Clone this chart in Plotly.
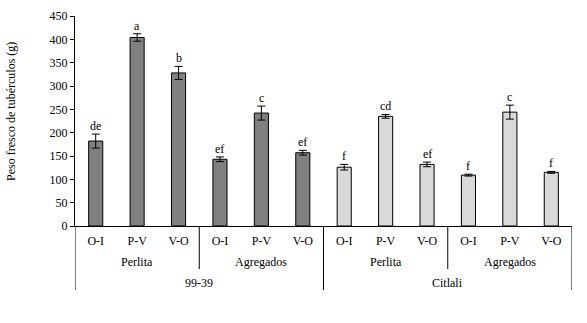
import plotly.graph_objects as go

treatments = ["O-I", "P-V", "V-O"] * 4
substrates = ["Perlita", "Agregados", "Perlita", "Agregados"]
varieties = ["99-39", "Citlali"]
values = [182, 404, 328, 143, 242, 157, 126, 235, 132, 109, 244, 115]
errors = [15, 8, 14, 5, 15, 5, 6, 4, 5, 2, 15, 2]
letters = ["de", "a", "b", "ef", "c", "ef", "f", "cd", "ef", "f", "c", "f"]
colors = ["#808080"] * 6 + ["#d9d9d9"] * 6
yticks = [0, 50, 100, 150, 200, 250, 300, 350, 400, 450]
ytitle = "Peso fresco de tubérculos (g)"

FONT = "Liberation Serif"
xs = list(range(len(values)))

fig = go.Figure()
fig.add_trace(go.Bar(
    x=xs, y=values, width=0.34,
    marker=dict(color=colors, line=dict(color="black", width=1)),
    error_y=dict(type="data", array=errors, visible=True, color="black",
                 thickness=1, width=4),
    showlegend=False,
))

annotations = []
for i, (v, e, t) in enumerate(zip(values, errors, letters)):
    annotations.append(dict(x=i, y=v + e, text=t, showarrow=False,
                            yanchor="bottom", xanchor="center", yshift=-1,
                            font=dict(family=FONT, size=12, color="black")))

def py(pix):
    return (226 - pix) / 210.0

def px(pix):
    return (pix - 75) / 497.0

for j, s in enumerate(substrates):
    annotations.append(dict(x=j * 3 + 1, y=py(262), xref="x", yref="paper", text=s,
                            showarrow=False, yanchor="middle",
                            font=dict(family=FONT, size=12, color="black")))
for k, v in enumerate(varieties):
    annotations.append(dict(x=k * 6 + 2.5, y=py(283), xref="x", yref="paper", text=v,
                            showarrow=False, yanchor="middle",
                            font=dict(family=FONT, size=12, color="black")))
annotations.append(dict(x=px(11), y=py(112), xref="paper", yref="paper", text=ytitle,
                        textangle=-90, showarrow=False, xanchor="center",
                        yanchor="middle",
                        font=dict(family=FONT, size=12, color="black")))

shapes = []
for b in [-0.5, 5.5, 11.5]:
    shapes.append(dict(type="line", xref="x", yref="paper", x0=b, x1=b,
                       y0=0, y1=py(290), line=dict(color="black", width=1)))
for b in [2.5, 8.5]:
    shapes.append(dict(type="line", xref="x", yref="paper", x0=b, x1=b,
                       y0=0, y1=py(269), line=dict(color="black", width=1)))

fig.update_layout(
    width=587, height=323,
    margin=dict(l=75, r=15, t=16, b=97),
    plot_bgcolor="white", paper_bgcolor="white",
    font=dict(family=FONT, size=12, color="black"),
    annotations=annotations, shapes=shapes,
    xaxis=dict(range=[-0.5, 11.5], tickvals=xs, ticktext=treatments,
               showline=True, linecolor="black", linewidth=1, ticks="",
               showgrid=False, zeroline=False, ticklabelstandoff=4,
               automargin=False,
               tickfont=dict(family=FONT, size=12, color="black")),
    yaxis=dict(range=[0, 450], tickvals=yticks, showline=True, linecolor="black",
               linewidth=1, ticks="outside", ticklen=4, tickcolor="black",
               showgrid=False, zeroline=False, automargin=False,
               tickfont=dict(family=FONT, size=12, color="black")),
)

fig.write_html(
    "out.html",
    config={"displayModeBar": False},
    post_script="document.body.style.margin='0';document.body.style.overflow='hidden';",
)
